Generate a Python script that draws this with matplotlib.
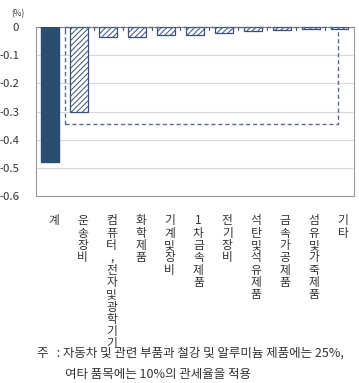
import matplotlib
matplotlib.use("Agg")
import matplotlib.pyplot as plt
from matplotlib.patches import Rectangle

plt.rcParams['font.family'] = ['Noto Sans CJK KR', 'DejaVu Sans']

categories = ['계', '운송장비', '컴퓨터, 전자 및 광학기기', '화학제품', '기계 및 장비',
              '1차 금속제품', '전기장비', '석탄 및 석유제품', '금속가공제품',
              '섬유 및 가죽제품', '기타']
values = [-0.48, -0.30, -0.035, -0.035, -0.028, -0.028, -0.02, -0.015, -0.01, -0.008, -0.008]
yticks = [0, -0.1, -0.2, -0.3, -0.4, -0.5, -0.6]
ytick_labels = ['0', '-0.1', '-0.2', '-0.3', '-0.4', '-0.5', '-0.6']
box_bottom = -0.345

navy = '#2c4d70'
edge = '#3a4f78'
textc = '#333333'

fig = plt.figure(figsize=(3.59, 3.83), dpi=100)
ax = fig.add_axes([0.100, 0.488, 0.886, 0.4415])

x = list(range(len(categories)))
plt.rcParams['hatch.color'] = edge
plt.rcParams['hatch.linewidth'] = 0.7
for i, v in zip(x, values):
    if i == 0:
        ax.bar(i, v, width=0.62, color=navy, edgecolor=navy, zorder=3)
    else:
        ax.bar(i, v, width=0.62, facecolor='white', edgecolor=edge, hatch='//////',
               linewidth=0.9, zorder=3)

ax.set_xlim(-0.5, len(categories) - 0.5)
ax.set_ylim(-0.6, 0)
ax.set_yticks(yticks)
ax.set_yticklabels(ytick_labels, fontsize=8.2, color=textc)
ax.tick_params(axis='y', length=0, pad=12)
ax.yaxis.grid(True, color='#d9d9d9', linewidth=0.8, zorder=0)

ax.set_xticks([])
for b in [i + 0.5 for i in range(len(categories) - 1)]:
    ax.plot([b, b], [0, -0.012], color='#555555', linewidth=0.8, zorder=4, clip_on=False)

for s in ['left', 'bottom', 'right']:
    ax.spines[s].set_color('#999999')
    ax.spines[s].set_linewidth(0.8)
ax.spines['top'].set_color('#888888')
ax.spines['top'].set_linewidth(0.8)

# dashed rectangle
rect = Rectangle((0.5, box_bottom), len(categories) - 1.55, -box_bottom,
                 fill=False, edgecolor='#5d6b8c', linestyle=(0, (3, 2)), linewidth=1.0,
                 zorder=5, clip_on=False)
ax.add_patch(rect)

# vertical labels
for i, c in zip(x, categories):
    s = '\n'.join(ch for ch in c if ch != ' ')
    ax.text(i + 0.12, -0.665, s, ha='center', va='top', fontsize=8.5, color=textc,
            linespacing=0.93)

fig.text(0.03, 0.975, '(%)', fontsize=6, color=textc, ha='left', va='top')
fig.text(0.103, 0.078, '주   : 자동차 및 관련 부품과 철강 및 알루미늄 제품에는 25%,',
         fontsize=9.0, color=textc, ha='left', va='center')
fig.text(0.181, 0.022, '여타 품목에는 10%의 관세율을 적용',
         fontsize=9.0, color=textc, ha='left', va='center')

fig.savefig('out.png', dpi=100)
